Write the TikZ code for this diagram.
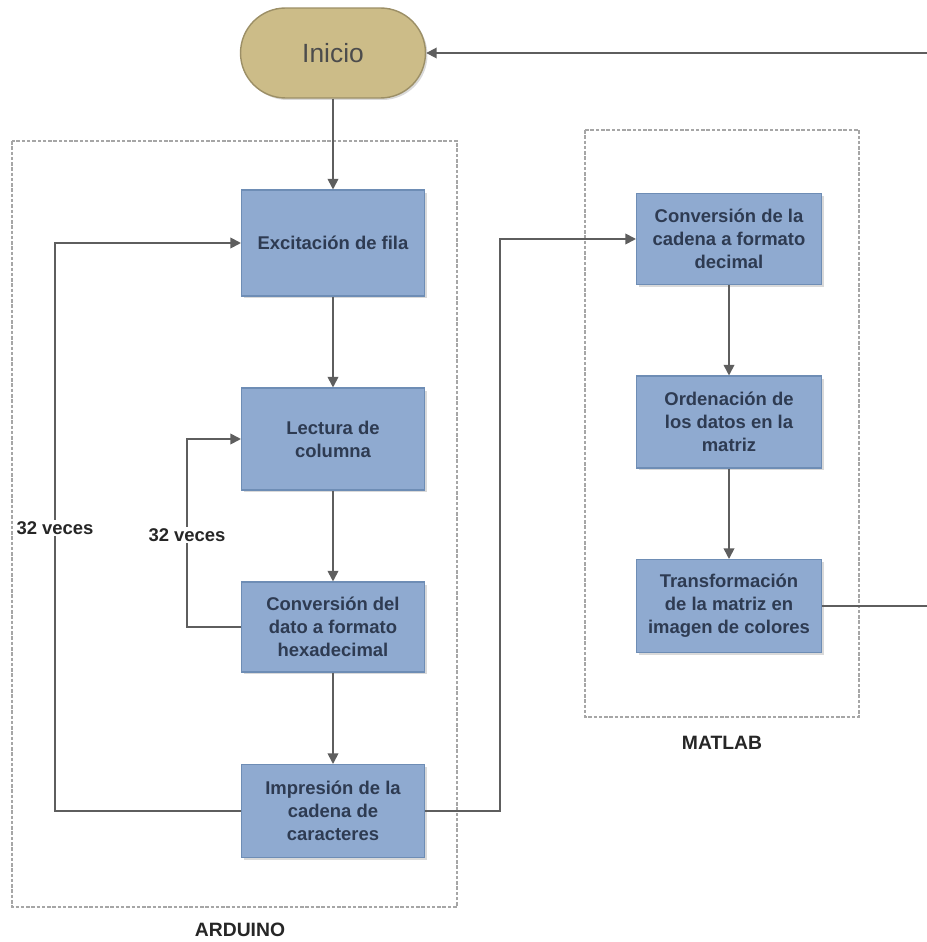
\documentclass[tikz,border=0pt]{standalone}
\usepackage{fontspec}
\setmainfont{Liberation Sans}
\usetikzlibrary{shadows,arrows.meta}

\definecolor{azulcaja}{HTML}{8FAAD0}
\definecolor{bordecaja}{HTML}{6E8DB5}
\definecolor{textocaja}{HTML}{2E3B52}
\definecolor{arena}{HTML}{CCBC88}
\definecolor{bordearena}{HTML}{9C8F66}
\definecolor{linea}{HTML}{5E5E5E}

\tikzset{
  caja/.style={draw=bordecaja, fill=azulcaja, line width=0.6pt, align=center,
    text=textocaja, font=\fontsize{10.5}{13}\selectfont\bfseries,
    minimum width=3.66cm, minimum height=1.86cm, inner sep=2pt,
    drop shadow={shadow xshift=0.05cm, shadow yshift=-0.05cm, opacity=0.3}},
  flecha/.style={draw=linea, line width=1pt, -{Triangle[length=6pt,width=6pt]}},
  marco/.style={draw=gray!70, dashed, dash pattern=on 2pt off 1pt, line width=0.6pt},
}

\begin{document}
\begin{tikzpicture}[x=0.02cm, y=-0.02cm]
  \useasboundingbox (0,0) rectangle (926,942);

  % marcos
  \draw[marco] (12,141) rectangle (457,907);
  \draw[marco] (585,130) rectangle (859,717);
  \node[font=\fontsize{11}{13}\selectfont\bfseries, text=black!85] at (240,930) (arduino) {ARDUINO};
  \node[font=\fontsize{11}{13}\selectfont\bfseries, text=black!85] at (722,743) (matlab) {MATLAB};

  % inicio
  \node[draw=bordearena, fill=arena, line width=0.8pt, rounded corners=0.9cm,
        minimum width=3.7cm, minimum height=1.8cm, text=black!70,
        font=\fontsize{15}{18}\selectfont,
        drop shadow={shadow xshift=0.04cm, shadow yshift=-0.04cm, opacity=0.3}]
        at (333,53) (inicio) {Inicio};

  % arduino
  \node[caja, minimum height=2.12cm] at (333,243) (fila) {Excitación de fila};
  \node[caja, minimum height=2.04cm] at (333,439) (columna) {Lectura de\\columna};
  \node[caja, minimum height=1.8cm] at (333,627) (hexa) {Conversión del\\dato a formato\\hexadecimal};
  \node[caja, minimum height=1.86cm] at (333,811) (impresion) {Impresión de la\\cadena de\\caracteres};

  % matlab
  \node[caja, minimum width=3.7cm, minimum height=1.82cm] at (729,239) (decimal) {Conversión de la\\cadena a formato\\decimal};
  \node[caja, minimum width=3.7cm, minimum height=1.84cm] at (729,422) (orden) {Ordenación de\\los datos en la\\matriz};
  \node[caja, minimum width=3.7cm, minimum height=1.86cm] at (729,606) (imagen) {Transformación\\de la matriz en\\imagen de colores};

  % flechas
  \draw[flecha] (inicio) -- (fila);
  \draw[flecha] (fila) -- (columna);
  \draw[flecha] (columna) -- (hexa);
  \draw[flecha] (hexa) -- (impresion);
  \draw[flecha] (decimal) -- (orden);
  \draw[flecha] (orden) -- (imagen);

  \draw[flecha] (impresion.west) -| (55,528) node[fill=white, inner sep=1pt,
        font=\fontsize{10.5}{13}\selectfont\bfseries, text=black!85] (veces1) {32 veces}
        |- (fila.west);
  \draw[flecha] (hexa.west) -| (187,535) node[fill=white, inner sep=1pt,
        font=\fontsize{10.5}{13}\selectfont\bfseries, text=black!85] (veces2) {32 veces}
        |- (columna.west);
  \draw[flecha] (impresion.east) -| (500,520) |- (decimal.west);
  \draw[flecha] (imagen.east) -| (935,300) |- (inicio.east);
\end{tikzpicture}
\end{document}
